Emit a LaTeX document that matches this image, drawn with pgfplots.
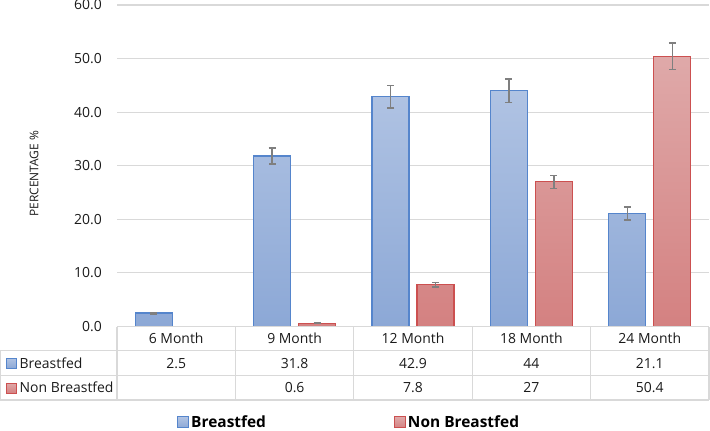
\documentclass[border=0pt]{standalone}
\usepackage{pgfplots}
\pgfplotsset{compat=1.18}
\usepackage{fontspec}
\setmainfont{Open Sans}
\definecolor{blueTop}{HTML}{B0C3E3}
\definecolor{blueBot}{HTML}{8CA8D6}
\definecolor{blueEdge}{HTML}{5585CC}
\definecolor{redTop}{HTML}{DFA9A9}
\definecolor{redBot}{HTML}{D48181}
\definecolor{redEdge}{HTML}{CC5050}
\definecolor{gridgray}{HTML}{D9D9D9}
\definecolor{errgray}{HTML}{7F7F7F}
\definecolor{textgray}{HTML}{1A1A1A}
\pgfplotsset{
  sqlegend/.style={legend image code/.code={\draw[##1, line width=1bp] (0bp,-5.5bp) rectangle (11bp,5.5bp);}},
  bluebar/.style={draw=blueEdge, line width=1.3bp, top color=blueTop, bottom color=blueBot},
  redbar/.style={draw=redEdge, line width=1.3bp, top color=redTop, bottom color=redBot},
  myerr/.style={error bars/.cd, y dir=both, y explicit,
    error bar style={draw=errgray, line width=1.3bp, fill=none, shading=none},
    error mark=-,
    error mark options={rotate=90, draw=errgray, mark size=3.5bp, line width=1.3bp}},
}
\begin{document}
\begin{tikzpicture}[x=1bp,y=1bp]
\useasboundingbox (0,0) rectangle (710,430);
\begin{axis}[
  at={(117bp,103.5bp)}, anchor=south west,
  scale only axis, width=592bp, height=321.5bp,
  xmin=-0.5, xmax=4.5, ymin=0, ymax=60,
  ybar=8bp, bar width=37bp,
  xtick={0,1,2,3,4},
  xticklabels={6 Month,9 Month,12 Month,18 Month,24 Month},
  xticklabel style={anchor=base, yshift=-17bp, font=\fontsize{14}{17}\selectfont, text=textgray},
  ytick={0,10,20,30,40,50,60},
  /pgf/number format/assume math mode=true,
  yticklabel style={/pgf/number format/fixed, /pgf/number format/fixed zerofill, /pgf/number format/precision=1,
    font=\fontsize{14}{16}\selectfont, text=textgray, inner sep=0pt, xshift=-15bp},
  ymajorgrids, grid style={draw=gridgray, line width=1.1bp},
  axis line style={draw=none},
  major tick length=0pt, tick style={draw=none},
  ylabel={PERCENTAGE \%},
  ylabel style={font=\fontsize{12}{14}\selectfont, text=textgray, at={(axis description cs:-0.140,0.475)}, anchor=center},
  legend columns=2,
  legend style={at={(axis description cs:0.1014,-0.2985)}, anchor=west, draw=none, fill=none, inner sep=0pt,
    font=\bfseries\fontsize{15.5}{18}\selectfont, text=black,
    /tikz/every even column/.append style={column sep=126bp}},
  legend cell align=left,
]
\addplot[bluebar, sqlegend, myerr]
  coordinates {(0,2.5) +- (0,0.15) (1,31.8) +- (0,1.5) (2,42.9) +- (0,2.1) (3,44) +- (0,2.2) (4,21.1) +- (0,1.2)};
\addlegendentry{Breastfed}
\addplot[redbar, sqlegend, myerr]
  coordinates {(1,0.6) +- (0,0.1) (2,7.8) +- (0,0.4) (3,27) +- (0,1.2) (4,50.4) +- (0,2.5)};
\addlegendentry{Non Breastfed}
\end{axis}
% data table under the chart
\begin{scope}[draw=gridgray, line width=1.1bp]
\draw (117,103.5) -- (709,103.5);
\draw (0,79.3) -- (709,79.3);
\draw (0,54.3) -- (709,54.3);
\draw (0,30) -- (709,30);
\draw (0.6,30) -- (0.6,79.3);
\foreach \xx in {117,235.4,353.8,472.2,590.6,709} {\draw (\xx,30) -- (\xx,103.5);}
\end{scope}
\draw[draw=blueEdge, line width=1bp, top color=blueTop, bottom color=blueBot] (6,61.8) rectangle (16,71.8);
\draw[draw=redEdge, line width=1bp, top color=redTop, bottom color=redBot] (6,37) rectangle (16,47);
\begin{scope}[every node/.style={font=\fontsize{14}{17}\selectfont, text=textgray, inner sep=0pt}]
\node[anchor=base west] at (19.5,62) {Breastfed};
\node[anchor=base west] at (19.5,37.2) {Non Breastfed};
\foreach \i/\a/\b in {0/2.5/,1/31.8/0.6,2/42.9/7.8,3/44/27,4/21.1/50.4} {
  \node[anchor=base] at ({176.2+118.4*\i},62) {\a};
  \node[anchor=base] at ({176.2+118.4*\i},37.2) {\b};
}
\end{scope}
\end{tikzpicture}
\end{document}
